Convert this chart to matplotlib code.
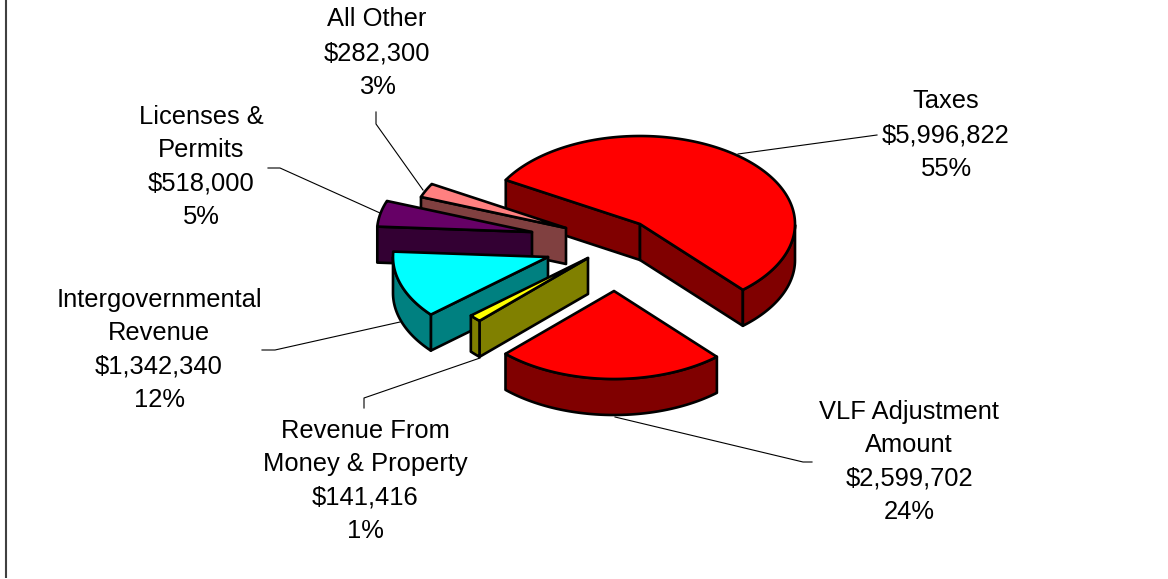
import numpy as np
import matplotlib
matplotlib.use("Agg")
import matplotlib.pyplot as plt
from matplotlib.patches import Polygon

plt.rcParams['font.family'] = ['Liberation Sans', 'DejaVu Sans']

categories = ["Taxes", "VLF Adjustment\nAmount", "Revenue From\nMoney & Property",
              "Intergovernmental\nRevenue", "Licenses &\nPermits", "All Other"]
values = [5996822, 2599702, 141416, 1342340, 518000, 282300]

top_colors = ["#FF0000", "#FF0000", "#FFFF00", "#00FFFF", "#660066", "#FF8080"]
wall_colors = ["#800000", "#800000", "#808000", "#008080", "#330033", "#804040"]

# layout (pixels)
apex_x = [640, 614, 588, 548, 532, 566]
apex_y = [224, 291, 258, 257, 232, 228]
label_x = [946, 909, 365, 159, 201, 377]
label_y = [135, 462, 481, 350, 167, 53]
leader_x = [[738, 877], [615, 803, 812], [480, 364, 364], [400, 275, 262], [380, 280, 268], [423, 376, 376]]
leader_y = [[154, 135], [417, 462, 462], [358, 398, 408], [322, 350, 350], [213, 168, 168], [190, 124, 112]]
draw_order = [0, 5, 4, 3, 2, 1]
RX, RY, DEPTH = 155, 88, 36
START = 150.0
LW = 1.9

fig = plt.figure(figsize=(11.68, 5.79), dpi=100)
ax = fig.add_axes([0, 0, 1, 1])
ax.set_xlim(0, 1168)
ax.set_ylim(579, 0)
ax.axis("off")

ax.plot([6, 6], [0, 578], color="#404040", lw=1.5, solid_capstyle="butt")

total = sum(values)
sweeps = [v / total * 360 for v in values]
starts = START - np.concatenate([[0], np.cumsum(sweeps)[:-1]])


def rim(cx, cy, th):
    t = np.radians(th)
    return cx + RX * np.cos(t), cy - RY * np.sin(t)


def add(pts, color, z):
    ax.add_patch(Polygon(pts, closed=True, facecolor=color, edgecolor="black",
                         lw=LW, joinstyle="round", zorder=z))


for n, i in enumerate(draw_order):
    a1, a2 = starts[i], starts[i] - sweeps[i]
    cx, cy = apex_x[i], apex_y[i]
    z = 2 + n
    # straight side walls that face the viewer
    if np.sin(np.radians(a1 + 90)) < 0:
        x, y = rim(cx, cy, a1)
        add([(cx, cy), (x, y), (x, y + DEPTH), (cx, cy + DEPTH)], wall_colors[i], z)
    if np.sin(np.radians(a2 - 90)) < 0:
        x, y = rim(cx, cy, a2)
        add([(cx, cy), (x, y), (x, y + DEPTH), (cx, cy + DEPTH)], wall_colors[i], z)
    # outer curved wall: only the part on the lower half of the ellipse
    th = np.linspace(a1, a2, 200)
    th = th[np.sin(np.radians(th)) < 0]
    if th.size > 1:
        xs, ys = rim(cx, cy, th)
        pts = np.r_[np.c_[xs, ys], np.c_[xs, ys + DEPTH][::-1]]
        add(pts, wall_colors[i], z)
    # top face
    th = np.linspace(a1, a2, 200)
    xs, ys = rim(cx, cy, th)
    add(np.r_[[(cx, cy)], np.c_[xs, ys]], top_colors[i], z)

for i, cat in enumerate(categories):
    ax.plot(leader_x[i], leader_y[i], color="black", lw=0.8, zorder=1)
    pct = values[i] / total * 100
    ax.text(label_x[i], label_y[i], f"{cat}\n${values[i]:,}\n{pct:.0f}%", ha="center",
            va="center", fontsize=18.4, linespacing=1.5, color="black", zorder=20)

fig.savefig("out.png", dpi=100)
